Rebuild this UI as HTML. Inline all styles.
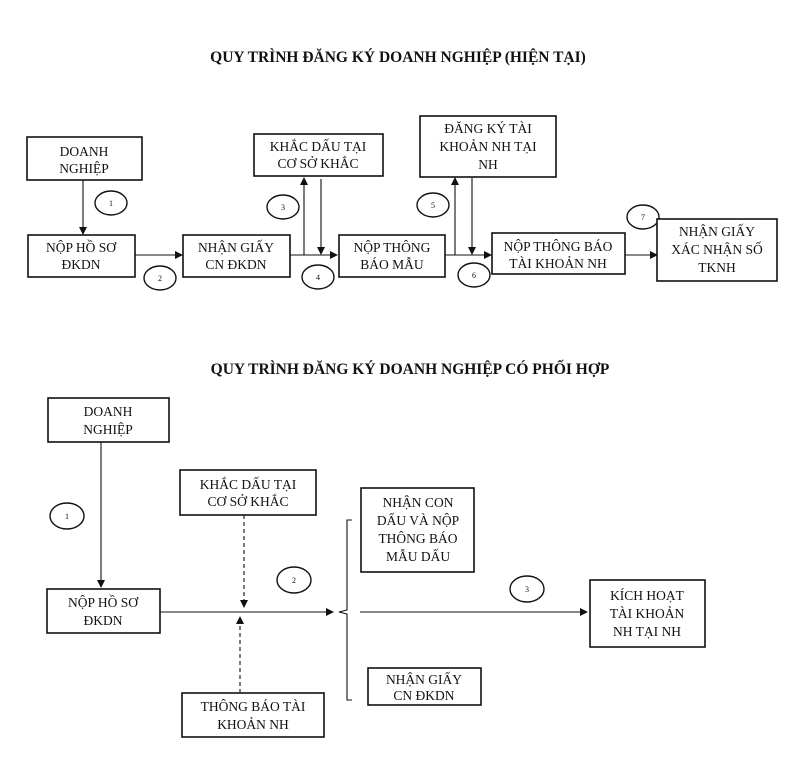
<!DOCTYPE html>
<html><head><meta charset="utf-8"><style>
html,body{margin:0;padding:0;background:#fff}
svg{display:block}
text{font-family:"Liberation Serif",serif;font-size:13.5px;fill:#111;text-anchor:middle}
.t{font-weight:bold;font-size:15.5px}
.n{font-size:8px}
rect{fill:#fff;stroke:#111;stroke-width:1.6}
line,path{stroke:#111;stroke-width:1.1;fill:none}
ellipse{fill:#fff;stroke:#111;stroke-width:1.4}
</style></head><body>
<svg width="800" height="757" viewBox="0 0 800 757">
<defs><marker id="a" markerWidth="8" markerHeight="8" refX="7" refY="4" orient="auto" markerUnits="userSpaceOnUse"><path d="M0,0 L8,4 L0,8 z" style="fill:#111;stroke:none"/></marker></defs>
<text class="t" x="398" y="62">QUY TRÌNH ĐĂNG KÝ DOANH NGHIỆP (HIỆN TẠI)</text>

<rect x="27" y="137" width="115" height="43"/><text x="84" y="156">DOANH</text><text x="84" y="173">NGHIỆP</text>
<line x1="83" y1="180" x2="83" y2="234" marker-end="url(#a)"/>
<ellipse cx="111" cy="203" rx="16" ry="12"/><text class="n" x="111" y="206">1</text>
<rect x="28" y="235" width="107" height="42"/><text x="81" y="252">NỘP HỒ SƠ</text><text x="81" y="269">ĐKDN</text>
<line x1="135" y1="255" x2="182" y2="255" marker-end="url(#a)"/>
<ellipse cx="160" cy="278" rx="16" ry="12"/><text class="n" x="160" y="281">2</text>
<rect x="183" y="235" width="107" height="42"/><text x="236" y="252">NHẬN GIẤY</text><text x="236" y="269">CN ĐKDN</text>
<line x1="290" y1="255" x2="337" y2="255" marker-end="url(#a)"/>
<line x1="304" y1="255" x2="304" y2="178" marker-end="url(#a)"/>
<line x1="321" y1="179" x2="321" y2="254" marker-end="url(#a)"/>
<rect x="254" y="134" width="129" height="42"/><text x="318" y="151">KHẮC DẤU TẠI</text><text x="318" y="168">CƠ SỞ KHẮC</text>
<ellipse cx="283" cy="207" rx="16" ry="12"/><text class="n" x="283" y="210">3</text>
<ellipse cx="318" cy="277" rx="16" ry="12"/><text class="n" x="318" y="280">4</text>
<rect x="339" y="235" width="106" height="42"/><text x="392" y="252">NỘP THÔNG</text><text x="392" y="269">BÁO MẪU</text>
<line x1="445" y1="255" x2="491" y2="255" marker-end="url(#a)"/>
<line x1="455" y1="255" x2="455" y2="178" marker-end="url(#a)"/>
<line x1="472" y1="178" x2="472" y2="254" marker-end="url(#a)"/>
<rect x="420" y="116" width="136" height="61"/><text x="488" y="133">ĐĂNG KÝ TÀI</text><text x="488" y="151">KHOẢN NH TẠI</text><text x="488" y="169">NH</text>
<ellipse cx="433" cy="205" rx="16" ry="12"/><text class="n" x="433" y="208">5</text>
<ellipse cx="474" cy="275" rx="16" ry="12"/><text class="n" x="474" y="278">6</text>
<rect x="492" y="233" width="133" height="41"/><text x="558" y="251">NỘP THÔNG BÁO</text><text x="558" y="268">TÀI KHOẢN NH</text>
<line x1="625" y1="255" x2="657" y2="255" marker-end="url(#a)"/>
<ellipse cx="643" cy="217" rx="16" ry="12"/><text class="n" x="643" y="220">7</text>
<rect x="657" y="219" width="120" height="62"/><text x="717" y="236">NHẬN GIẤY</text><text x="717" y="254">XÁC NHẬN SỐ</text><text x="717" y="272">TKNH</text>

<text class="t" x="410" y="374">QUY TRÌNH ĐĂNG KÝ DOANH NGHIỆP CÓ PHỐI HỢP</text>

<rect x="48" y="398" width="121" height="44"/><text x="108" y="416">DOANH</text><text x="108" y="434">NGHIỆP</text>
<line x1="101" y1="442" x2="101" y2="587" marker-end="url(#a)"/>
<ellipse cx="67" cy="516" rx="17" ry="13"/><text class="n" x="67" y="519">1</text>
<rect x="47" y="589" width="113" height="44"/><text x="103" y="607">NỘP HỒ SƠ</text><text x="103" y="625">ĐKDN</text>
<line x1="160" y1="612" x2="333" y2="612" marker-end="url(#a)"/>
<rect x="180" y="470" width="136" height="45"/><text x="248" y="489">KHẮC DẤU TẠI</text><text x="248" y="506">CƠ SỞ KHẮC</text>
<line x1="244" y1="515" x2="244" y2="607" stroke-dasharray="4,3" marker-end="url(#a)"/>
<rect x="182" y="693" width="142" height="44"/><text x="253" y="711">THÔNG BÁO TÀI</text><text x="253" y="729">KHOẢN NH</text>
<line x1="240" y1="693" x2="240" y2="617" stroke-dasharray="4,3" marker-end="url(#a)"/>
<ellipse cx="294" cy="580" rx="17" ry="13"/><text class="n" x="294" y="583">2</text>
<path d="M352,520 L347,520 L347,610 L339,612 L347,614 L347,700 L352,700"/>
<rect x="361" y="488" width="113" height="84"/><text x="418" y="507">NHẬN CON</text><text x="418" y="525">DẤU VÀ NỘP</text><text x="418" y="543">THÔNG BÁO</text><text x="418" y="561">MẪU DẤU</text>
<line x1="360" y1="612" x2="587" y2="612" marker-end="url(#a)"/>
<ellipse cx="527" cy="589" rx="17" ry="13"/><text class="n" x="527" y="592">3</text>
<rect x="590" y="580" width="115" height="67"/><text x="647" y="600">KÍCH HOẠT</text><text x="647" y="618">TÀI KHOẢN</text><text x="647" y="636">NH TẠI NH</text>
<rect x="368" y="668" width="113" height="37"/><text x="424" y="684">NHẬN GIẤY</text><text x="424" y="700">CN ĐKDN</text>
</svg>
</body></html>
